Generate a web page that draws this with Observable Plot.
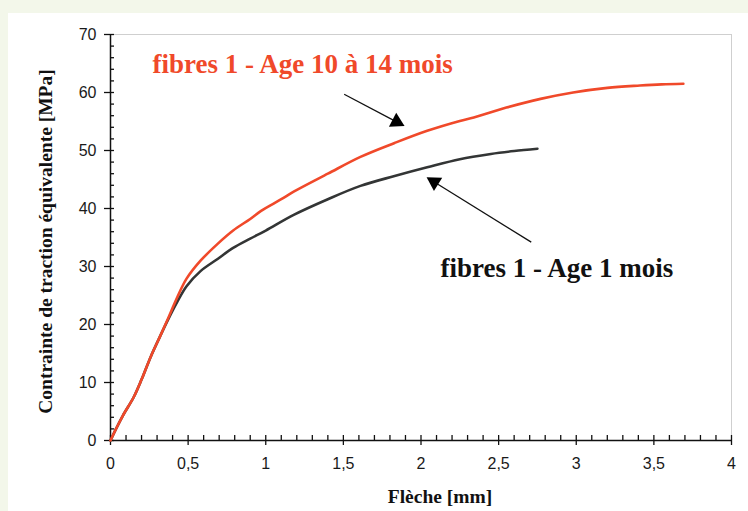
<!DOCTYPE html>
<html>
<head>
<meta charset="utf-8">
<script src="https://cdn.jsdelivr.net/npm/d3@7"></script>
<script src="https://cdn.jsdelivr.net/npm/@observablehq/plot@0.6"></script>
<style>
  html, body { margin: 0; padding: 0; background: #f3f7ea; width: 748px; height: 511px; overflow: hidden; }
  #chart { position: absolute; left: 8px; top: 13px; background: #ffffff; }
</style>
</head>
<body>
<div id="chart"></div>
<script>
// ---- data ----
const xOld = [0, 0.03, 0.08, 0.15, 0.2, 0.26, 0.32, 0.37, 0.43, 0.49, 0.58, 0.69, 0.79, 0.9, 0.97, 1.1, 1.18, 1.4, 1.61, 1.83, 2.04, 2.25, 2.34, 2.55, 2.77, 2.98, 3.2, 3.41, 3.55, 3.69];
const yOld = [0, 1.7, 4.3, 7.5, 10.5, 14.5, 18, 21, 24.7, 27.9, 31, 33.9, 36.2, 38.2, 39.6, 41.6, 42.9, 46.0, 48.9, 51.3, 53.4, 55.1, 55.7, 57.4, 58.9, 60.0, 60.8, 61.2, 61.4, 61.5];
const xYoung = [0, 0.03, 0.08, 0.15, 0.2, 0.26, 0.32, 0.37, 0.43, 0.49, 0.58, 0.69, 0.79, 0.9, 1.0, 1.18, 1.4, 1.61, 1.83, 2.04, 2.25, 2.45, 2.6, 2.75];
const yYoung = [0, 1.7, 4.3, 7.5, 10.5, 14.5, 18, 20.8, 23.9, 26.6, 29.2, 31.3, 33.2, 34.8, 36.2, 38.9, 41.6, 43.9, 45.6, 47.1, 48.5, 49.4, 49.9, 50.3];

const seriesLabels = ["fibres 1 - Age 10 à 14 mois", "fibres 1 - Age 1 mois"];
const labelX = [0.27, 2.125];
const labelY = [64.8, 29.6];
const arrowX1 = [1.505, 2.71];
const arrowY1 = [59.7, 34.2];
const arrowX2 = [1.895, 2.035];
const arrowY2 = [54.2, 45.4];

const xTicks = [0, 0.5, 1, 1.5, 2, 2.5, 3, 3.5, 4];
const xTickLabels = ["0", "0,5", "1", "1,5", "2", "2,5", "3", "3,5", "4"];
const yTicks = [0, 10, 20, 30, 40, 50, 60, 70];
const xLabel = "Flèche [mm]";
const yLabel = "Contrainte de traction équivalente [MPa]";

// ---- layout / style ----
const W = 740, H = 498, ML = 102, MR = 17, MT = 21, MB = 71;
const RED = "#f0492a", DARK = "#333535";
const SERIF = "'Liberation Serif', 'Times New Roman', serif";
const kx = (W - ML - MR) / 4, ky = (H - MT - MB) / 70;

const oldData = xOld.map((x, i) => ({x, y: yOld[i]}));
const youngData = xYoung.map((x, i) => ({x, y: yYoung[i]}));
const labels = seriesLabels.map((t, i) => ({t, x: labelX[i], y: labelY[i], c: i === 0 ? RED : "#111"}));
const arrows = arrowX1.map((x1, i) => {
  const x2 = arrowX2[i], y1 = arrowY1[i], y2 = arrowY2[i];
  const dxp = (x2 - x1) * kx, dyp = -(y2 - y1) * ky;
  const len = Math.hypot(dxp, dyp);
  const back = 9.2;
  return {
    x1, y1, x2, y2,
    hx: x2 - (dxp / len) * back / kx,
    hy: y2 + (dyp / len) * back / ky,
    rot: Math.atan2(dxp, -dyp) * 180 / Math.PI
  };
});
const minorX = d3.range(0, 41).map(d => d / 10);
const minorY = d3.range(0, 36).map(d => d * 2);

const plot = Plot.plot({
  width: W, height: H,
  marginLeft: ML, marginRight: MR, marginTop: MT, marginBottom: MB,
  style: {fontFamily: "'Liberation Sans', Arial, sans-serif", fontSize: "16px", color: "#1a1a1a", background: "#ffffff", overflow: "visible"},
  x: {domain: [0, 4]},
  y: {domain: [0, 70]},
  marks: [
    Plot.frame({stroke: "#cfcfcf", strokeWidth: 1}),
    Plot.axisX({ticks: xTicks, tickSize: 5, tickPadding: 12, tickFormat: (d, i) => xTickLabels[i], label: null, stroke: "#111", strokeWidth: 1.3}),
    Plot.axisX({ticks: minorX, tickSize: 5, dy: -5, tickFormat: () => "", label: null, stroke: "#111", strokeWidth: 1.3}),
    Plot.axisY({ticks: yTicks, tickSize: 6, tickPadding: 8, label: null, stroke: "#111", strokeWidth: 1.3}),
    Plot.axisY({ticks: minorY, tickSize: 4, dx: 4, tickFormat: () => "", label: null, stroke: "#111", strokeWidth: 1.3}),
    Plot.ruleX([0], {stroke: "#111", strokeWidth: 1.5}),
    Plot.ruleY([0], {stroke: "#111", strokeWidth: 1.5}),
    Plot.line(youngData, {x: "x", y: "y", stroke: DARK, strokeWidth: 2.6, curve: "catmull-rom"}),
    Plot.line(oldData, {x: "x", y: "y", stroke: RED, strokeWidth: 2.6, curve: "catmull-rom"}),
    Plot.link(arrows, {x1: "x1", y1: "y1", x2: "hx", y2: "hy", stroke: "#111", strokeWidth: 1.3}),
    Plot.dot(arrows, {x: "hx", y: "hy", symbol: "triangle", r: 5.8, fill: "#000", stroke: null, rotate: "rot"}),
    Plot.text(labels, {x: "x", y: "y", text: "t", fill: "c", textAnchor: "start", lineAnchor: "middle", fontFamily: SERIF, fontWeight: "bold", fontSize: 27}),
    Plot.text([xLabel], {frameAnchor: "bottom", textAnchor: "middle", lineAnchor: "middle", dx: 19, dy: 56, text: d => d, fill: "#111", fontFamily: SERIF, fontWeight: "bold", fontSize: 19.5}),
    Plot.text([yLabel], {frameAnchor: "left", textAnchor: "middle", lineAnchor: "middle", dx: -65, dy: 4, rotate: -90, text: d => d, fill: "#111", fontFamily: SERIF, fontWeight: "bold", fontSize: 19.5})
  ]
});
document.getElementById("chart").appendChild(plot);
</script>
</body>
</html>
